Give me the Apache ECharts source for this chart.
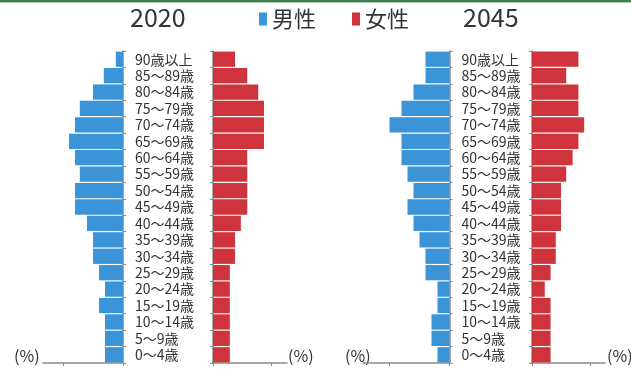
<!DOCTYPE html>
<html>
<head>
<meta charset="utf-8">
<script src="https://cdn.jsdelivr.net/npm/echarts@6/dist/echarts.min.js"></script>
<style>
html,body{margin:0;padding:0;background:#fff;}
#c{width:631px;height:373px;}
</style>
</head>
<body>
<div id="c"></div>
<script>
// categories (top to bottom)
var ages = ['90歳以上','85～89歳','80～84歳','75～79歳','70～74歳','65～69歳','60～64歳','55～59歳','50～54歳','45～49歳','40～44歳','35～39歳','30～34歳','25～29歳','20～24歳','15～19歳','10～14歳','5～9歳','0～4歳'];
// share of each sex by age group (%)
var male2020   = [1.2, 3.2, 5, 7.2, 8, 9, 8, 7.2, 8, 8, 6, 5, 5, 4, 3, 4, 3, 3, 3];
var female2020 = [3.8, 5.9, 7.8, 8.8, 8.8, 8.8, 5.9, 5.9, 5.9, 5.9, 4.8, 3.8, 3.8, 2.9, 2.9, 2.9, 2.9, 2.9, 2.9];
var male2045   = [4, 4, 6, 8, 10, 8, 8, 7, 6, 7, 6, 5, 4, 4, 2, 2, 3, 3, 2];
var female2045 = [8, 5.9, 8, 8, 9, 8, 7, 5.9, 5, 5, 5, 4.1, 4.1, 3.2, 2.2, 3.2, 3.2, 3.2, 3.2];
var years = ['2020', '2045'];
var sexes = ['男性', '女性'];
var tickValues = [0, 10];

var BLUE = '#3b93d8', RED = '#cf333b', AXIS = '#8a8a8a', TXT = '#333333';
var FONT = '"Noto Sans CJK JP", "Noto Sans", sans-serif';

var TOP = 51, H = 312;
var grids = [
  {left: 43,  width: 80,   max: 80/6,     inverse: true,  pos: 'right'},
  {left: 213, width: 74,   max: 74/5.8,   inverse: false, pos: 'left'},
  {left: 363, width: 86.5, max: 86.5/6,   inverse: true,  pos: 'right'},
  {left: 532, width: 73,   max: 73/5.8,   inverse: false, pos: 'left'}
];
var seriesData = [male2020, female2020, male2045, female2045];

var option = {
  backgroundColor: '#ffffff',
  animation: false,
  textStyle: {fontFamily: FONT},
  legend: {
    data: sexes,
    left: 254, top: 3,
    icon: 'rect',
    itemWidth: 8, itemHeight: 13,
    itemGap: 36,
    textStyle: {fontSize: 22, color: TXT, fontFamily: FONT}
  },
  grid: grids.map(function(g){ return {left: g.left, width: g.width, top: TOP, height: H}; }),
  xAxis: grids.map(function(g, i){
    return {
      type: 'value', gridIndex: i, min: 0, max: g.max, inverse: g.inverse,
      splitLine: {show: false},
      axisLine: {show: true, lineStyle: {color: AXIS, width: 1.5}},
      axisTick: {show: true, customValues: tickValues, length: 3, lineStyle: {color: AXIS}},
      axisLabel: {show: false}
    };
  }),
  yAxis: grids.map(function(g, i){
    return {
      type: 'category', gridIndex: i, data: ages, inverse: true,
      position: g.pos,
      axisLine: {show: true, lineStyle: {color: AXIS, width: 1.5}},
      axisTick: {show: true, length: 3, interval: 0, lineStyle: {color: AXIS}},
      axisLabel: {
        show: g.pos === 'right', align: 'left', margin: 12, interval: 0,
        fontSize: 14, color: TXT, fontFamily: FONT
      }
    };
  }),
  series: seriesData.map(function(d, i){
    var isMale = (i % 2 === 0);
    return {
      type: 'bar', name: isMale ? sexes[0] : sexes[1],
      xAxisIndex: i, yAxisIndex: i, data: d,
      barCategoryGap: '7%',
      itemStyle: {color: isMale ? BLUE : RED}
    };
  }),
  graphic: [
    {type: 'rect', shape: {x: 0, y: 0, width: 631, height: 2}, style: {fill: '#3f7b4c'}},
    {type: 'rect', shape: {x: 0, y: 2, width: 631, height: 1}, style: {fill: '#a9c9ae'}},
    {type: 'text', x: 130, y: 17, style: {text: years[0], fill: TXT, font: '25px ' + FONT, textVerticalAlign: 'middle'}},
    {type: 'text', x: 463, y: 17, style: {text: years[1], fill: TXT, font: '25px ' + FONT, textVerticalAlign: 'middle'}},
    {type: 'text', x: 14,  y: 356, style: {text: '(%)', font: '16px ' + FONT, fill: TXT, textVerticalAlign: 'middle'}},
    {type: 'text', x: 288, y: 356, style: {text: '(%)', font: '16px ' + FONT, fill: TXT, textVerticalAlign: 'middle'}},
    {type: 'text', x: 345, y: 356, style: {text: '(%)', font: '16px ' + FONT, fill: TXT, textVerticalAlign: 'middle'}},
    {type: 'text', x: 607, y: 356, style: {text: '(%)', font: '16px ' + FONT, fill: TXT, textVerticalAlign: 'middle'}}
  ]
};
var chart = echarts.init(document.getElementById('c'), null, {renderer: 'canvas'});
chart.setOption(option);
</script>
</body>
</html>
